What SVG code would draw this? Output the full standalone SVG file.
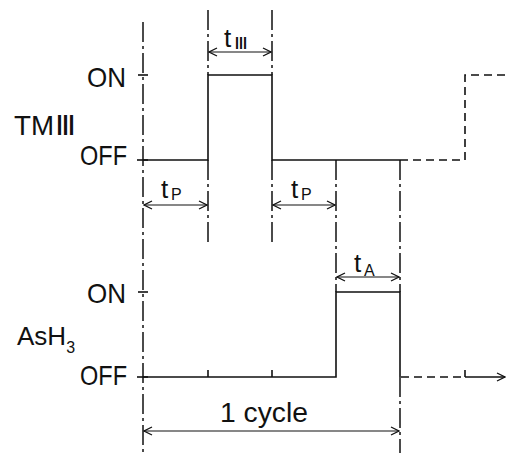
<svg xmlns="http://www.w3.org/2000/svg" width="507" height="455" viewBox="0 0 507 455">
<style>
.ln{stroke:#111;stroke-width:1.6;fill:none}
.ch{stroke:#111;stroke-width:1.5;fill:none;stroke-dasharray:20 4 3 4}
.ds{stroke:#111;stroke-width:1.6;fill:none;stroke-dasharray:8 5}
.dim{stroke:#111;stroke-width:1.2;fill:none}
.tx{font-family:"Liberation Sans",Arial,sans-serif;fill:#111}
.rn{font-family:"DejaVu Sans","Noto Sans CJK JP",sans-serif;fill:#111}
</style>
<defs>
<marker id="ah" markerWidth="10" markerHeight="10" refX="9" refY="5" orient="auto-start-reverse" markerUnits="userSpaceOnUse">
<path d="M1,1 L9,5 L1,9" stroke="#111" stroke-width="1.3" fill="none"/>
</marker>
</defs>
<rect width="507" height="455" fill="#fff"/>
<g id="labels">
<text class="tx" x="87" y="87" font-size="28" textLength="39" lengthAdjust="spacingAndGlyphs">ON</text>
<text class="tx" x="80" y="165" font-size="28" textLength="47" lengthAdjust="spacingAndGlyphs">OFF</text>
<text class="tx" x="14" y="135" font-size="27" textLength="40" lengthAdjust="spacingAndGlyphs">TM</text>
<text class="rn" x="55" y="135" font-size="27" textLength="21" lengthAdjust="spacingAndGlyphs">Ⅲ</text>
<text class="tx" x="87" y="303" font-size="28" textLength="39" lengthAdjust="spacingAndGlyphs">ON</text>
<text class="tx" x="80" y="385" font-size="28" textLength="47" lengthAdjust="spacingAndGlyphs">OFF</text>
<text class="tx" x="17" y="345" font-size="26">AsH<tspan font-size="16" dy="8">3</tspan></text>
</g>
<g id="guides">
<line class="ch" x1="143" y1="22" x2="143" y2="453"/>
<line class="ch" x1="208" y1="10" x2="208" y2="75"/>
<line class="ch" x1="208" y1="160" x2="208" y2="242"/>
<line class="ch" x1="272" y1="10" x2="272" y2="75"/>
<line class="ch" x1="272" y1="160" x2="272" y2="242"/>
<line class="ch" x1="336" y1="160" x2="336" y2="292"/>
<line class="ch" x1="400" y1="160" x2="400" y2="292"/>
<line class="ch" x1="400" y1="377" x2="400" y2="453"/>
</g>
<g id="ticks">
<line class="ln" x1="138" y1="75" x2="148" y2="75"/>
<line class="ln" x1="137" y1="160" x2="148" y2="160"/>
<line class="ln" x1="138" y1="292" x2="148" y2="292"/>
<line class="ln" x1="137" y1="377" x2="148" y2="377"/>
<line class="ln" x1="208" y1="370" x2="208" y2="377"/>
<line class="ln" x1="272" y1="370" x2="272" y2="377"/>
<line class="ln" x1="465" y1="370" x2="465" y2="377"/>
</g>
<g id="tm3-signal">
<polyline class="ln" points="143,160 208,160 208,75 272,75 272,160 400,160"/>
<polyline class="ds" points="400,160 465,160 465,75 507,75"/>
</g>
<g id="ash3-signal">
<polyline class="ln" points="143,377 336,377 336,292 400,292 400,377"/>
<line class="ds" x1="401" y1="377" x2="465" y2="377"/>
<line class="ln" x1="465" y1="377" x2="505" y2="377" marker-end="url(#ah)"/>
</g>
<g id="dimensions">
<line class="dim" x1="144" y1="205" x2="207" y2="205" marker-start="url(#ah)" marker-end="url(#ah)"/>
<line class="dim" x1="273" y1="205" x2="335" y2="205" marker-start="url(#ah)" marker-end="url(#ah)"/>
<line class="dim" x1="209" y1="52" x2="271" y2="52" marker-start="url(#ah)" marker-end="url(#ah)"/>
<line class="dim" x1="337" y1="277" x2="399" y2="277" marker-start="url(#ah)" marker-end="url(#ah)"/>
<line class="dim" x1="144" y1="431" x2="399" y2="431" marker-start="url(#ah)" marker-end="url(#ah)"/>
</g>
<g id="dim-labels">
<text class="tx" x="161" y="198" font-size="26">t</text>
<text class="tx" x="171" y="200" font-size="16">P</text>
<text class="tx" x="291" y="198" font-size="26">t</text>
<text class="tx" x="301" y="200" font-size="16">P</text>
<text class="tx" x="224" y="47" font-size="26">t</text>
<text class="rn" x="234" y="49" font-size="15" textLength="14" lengthAdjust="spacingAndGlyphs">Ⅲ</text>
<text class="tx" x="354" y="272" font-size="26">t</text>
<text class="tx" x="364" y="276" font-size="16">A</text>
<text class="tx" x="220" y="422" font-size="27" textLength="88" lengthAdjust="spacingAndGlyphs">1 cycle</text>
</g>
</svg>
